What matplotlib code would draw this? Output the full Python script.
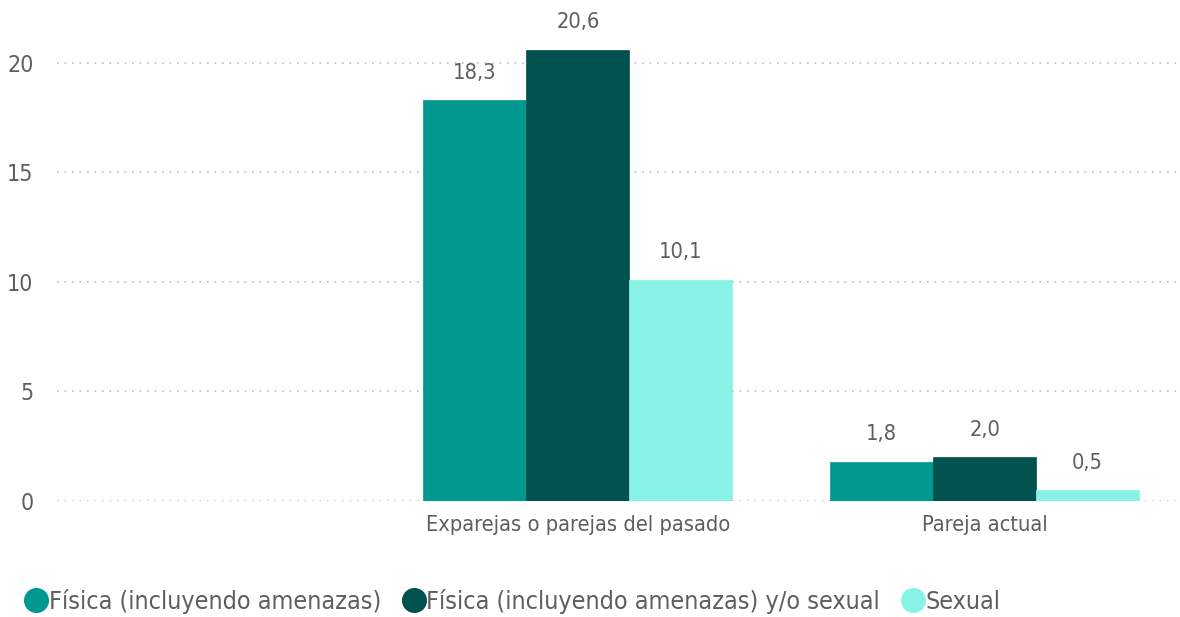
import numpy as np
import matplotlib.pyplot as plt
from matplotlib.lines import Line2D

categories = ["Exparejas o parejas del pasado", "Pareja actual"]
series = ["Física (incluyendo amenazas)", "Física (incluyendo amenazas) y/o sexual", "Sexual"]
fisica = [18.3, 1.8]
fisica_sexual = [20.6, 2.0]
sexual = [10.1, 0.5]
colors = ["#019890", "#01524F", "#88F2E7"]
yticks = [0, 5, 10, 15, 20]

plt.rcParams['font.family'] = ['DejaVu Sans']
plt.rcParams['font.stretch'] = 'condensed'
txt = "#605E5C"

fig = plt.figure(figsize=(11.8, 6.17), dpi=100)
ax = fig.add_axes([57 / 1180, 116 / 617, (1178 - 57) / 1180, (501 - 30) / 617])

x = np.arange(len(categories))
w = 0.253
for i, (vals, c) in enumerate(zip([fisica, fisica_sexual, sexual], colors)):
    pos = x + (i - 1) * w
    ax.bar(pos, vals, width=w, color=c, edgecolor=c, linewidth=0.5)
    for p, v in zip(pos, vals):
        ax.text(p, v + 0.8, f"{v:.1f}".replace(".", ","), ha="center", va="bottom",
                fontsize=15.7, color=txt)

ax.set_xlim(-1.28, 1.475)
ax.set_ylim(0, 21.5)
ax.set_yticks(yticks)
ax.set_xticks(x)
ax.set_xticklabels(categories, fontsize=15.7, color=txt)
ax.tick_params(axis="y", labelsize=16.6, labelcolor=txt, length=0, pad=17)
ax.tick_params(axis="x", length=0, pad=10)
for lab in ax.get_yticklabels():
    lab.set_horizontalalignment("right")
ax.grid(axis="y", color="#BEBEBE", linestyle=(0, (1, 3.5)), linewidth=1.2)
ax.set_axisbelow(True)
for s in ax.spines.values():
    s.set_visible(False)

handles = [Line2D([], [], marker="o", linestyle="", markersize=17, color=c) for c in colors]
fig.legend(handles, series, loc="lower left", bbox_to_anchor=(-0.002, -0.032), ncol=3,
           frameon=False, fontsize=18, handletextpad=-0.15, columnspacing=0.65,
           labelcolor=txt, handlelength=1.3)

fig.savefig("out.png", dpi=100)
